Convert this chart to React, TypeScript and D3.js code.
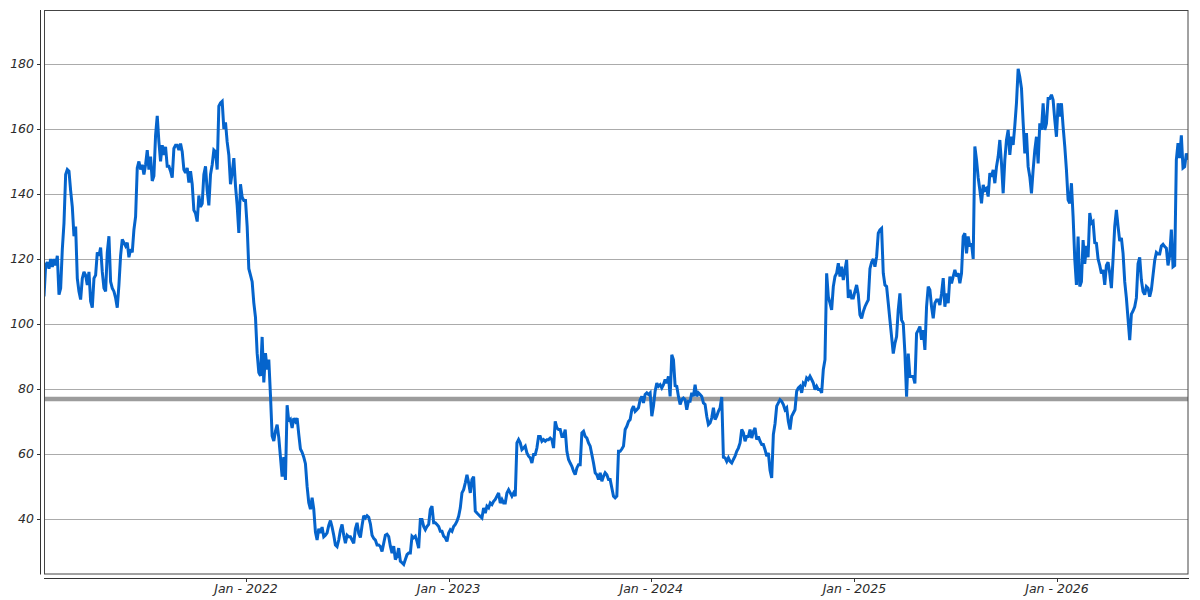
import React from 'react';
import * as d3 from 'd3';

// Series start and cadence (regular 3-day sampling of the traced curve)
const startDate = '2021-01-02';
const stepDays = 3;

// Values, in chronological order
const valuesA = [
  108.5, 118, 119, 117, 120, 117.5, 120, 118, 121, 109,
  111, 123, 131, 146, 147.5, 147, 141, 136, 127, 130,
  114, 110, 107.5, 114, 116, 115, 112, 116, 107, 105,
  114, 115, 122, 121, 123.5, 116, 111, 110, 122, 127,
  113, 111, 110, 108, 105, 112, 121, 126, 125, 124,
  125, 120.5, 123, 122, 129, 133, 148, 150, 147.5, 149,
  146, 149, 153.5, 147.5, 151.5, 144, 145.5, 158, 164, 156,
  150, 155, 152, 154.5, 148.5, 148.5, 147, 145, 154, 155,
  155, 153.5, 155.5, 153, 147.5, 146.5, 148, 143.5, 147, 143,
  135, 134, 131.5, 139.5, 136, 137, 146, 148.5, 141, 136.5,
  146, 149, 153.5, 153, 147.5, 167, 168, 168.5, 160, 162,
  156, 152, 143, 146.5, 151, 142.5, 136.5, 128,
];
const valuesB = [
  143, 139, 138, 138, 130, 117, 115, 113, 106.5, 102,
  91, 85, 84, 96, 82, 91, 86, 89, 78, 65.5,
  64, 67, 69, 65, 59, 53, 59, 52, 75, 70,
  70.6, 68, 71, 70, 71, 66, 61.5, 60.5, 59, 57,
  50, 45, 43, 46.5, 43, 36, 33.5, 37, 35.7, 37.5,
  34.5, 35, 35.7, 38, 39.5, 37.5, 35, 32, 31.5, 33.5,
  36.5, 38.3, 35, 32.5, 35, 34.5, 34.5, 33.5, 32.5, 37,
  38.8, 35.5, 34.3, 38, 41, 40.3, 41, 40.5, 38.5, 35,
  34, 33.5, 32, 32, 31.5, 30, 32.5, 35, 35.3, 34.6,
];
const valuesC = [
  31.6, 29.5, 31.6, 27.5, 28.5, 31, 27, 26.5, 26, 27.5,
  29, 29.5, 29.5, 34.7, 34.2, 34.7, 33.1, 31, 39.8, 39.8,
  37.7, 36.7, 37.7, 38.3, 42.9, 43.9, 38.8, 38.8, 38.3, 37.7,
  36.2, 36.2, 34.7, 34.2, 33.1, 35.7, 36.7, 36.2, 37.7, 38.3,
  39.3, 40.8, 43.4, 48, 49, 51.1, 53.6, 51.1, 48, 52.1,
  53, 42.4, 41.8, 41.3, 40.8, 40.3, 43.4, 41.8, 43.9, 43.4,
  44.9, 44.4, 45.4, 46, 47, 48, 44.9, 46, 44.9, 44.9,
  48, 49, 48, 47, 48, 47, 63.4, 64.4, 63.4, 61.3,
  61.8, 62.4, 60.3, 59.3, 58.8, 57.2, 59.8, 59.8, 61.8, 65.4,
  65.4, 63.9, 64.4, 63.9, 64.4, 64.4, 64.9, 64.4, 61.8, 70,
  68, 67.5, 67.5, 65.4, 65.4, 67.5, 60.8, 58.3, 57.2, 56.2,
  54.7, 53.6, 55.7, 56.7, 56.7, 66.5, 67, 65.4, 64.9, 63.4,
  62.4, 59.8, 57.2, 54.2, 53.6, 52.1, 54.2, 51.6, 53.1, 54.2,
  53.6, 52.1, 52.1, 49.5, 47, 46.5, 47, 60.8, 60.8, 61.5,
  62.4, 67.5, 68.5, 70, 70.6, 73.6, 74.7, 73.1, 73.6, 74.2,
];
const valuesD = [
  76.7, 77.7, 75.7, 78.3, 78.8, 78.3, 78.8, 71.6, 74.7, 79.3,
  81.8, 80.8, 81.3, 80.3, 81.3, 82.9, 81.8, 83.9, 77.7, 90.5,
  89, 81, 80.8, 77.7, 75.2, 76.7, 77.2, 76.7, 73.6, 76.2,
  76.2, 78.8, 77.7, 81.3, 77.7, 78.8, 78.3, 77.7, 75.7, 75.2,
  71.6, 69, 69.5, 71.1, 74.2, 70.6, 71.6, 73.1, 74.2, 77.5,
  59, 58.8, 57.7, 58.8, 57.7, 57.2, 58.3, 59.3, 60.8, 61.8,
  63.4, 67.5, 66.5, 63.9, 65.4, 65.4, 67.5, 64.9, 66.9, 68,
  64.4, 65.4, 63.9, 62.9, 62.9, 61.3, 59.3, 60.3, 55, 52.6,
  66, 69.3, 74.7, 75.7, 76.7, 76.2, 75.2, 73.6, 74.2, 70,
  67.5, 71.6, 72.6, 73.6, 79.3, 80.3, 80.8, 78.8, 81.8, 81.3,
  83.4, 82.9, 83.9, 82.9, 81.8, 79.8, 80.8, 79.8, 79.8, 78.8,
  86, 89,
];
const valuesE = [
  115.6, 108.4, 106.4, 104.3, 111.5, 114.6, 115.6, 118.7, 114.6, 117.6,
  113.5, 116.6, 119.7, 108, 110.5, 108, 108, 110, 112, 109,
  102.8, 101.7, 103.8, 105.3, 106.4, 107.4, 117, 119, 120, 117.6,
  120.7, 127.9, 128.9, 129.4, 115.6, 112, 111.5, 106.4, 101.2, 96.1,
  90.9, 94, 96.1, 104.3, 109.4, 101.2, 100.2, 91, 77.6, 90.9,
  83.8, 83.8, 83.8, 81.7, 97.1, 98.1, 99.2, 95.1, 98.1, 92,
  105.3, 111.5, 110.5, 105.3, 101.7, 106.4, 107.4, 107.4, 105.8, 109.4,
  114.1, 105.3, 109.4, 106.4, 114.6, 112.5, 114.6, 116.6, 114.6, 115.6,
  112.5, 115.6, 126.9, 127.9, 121.7, 126.9, 123.8, 124.8, 120, 154.6,
  150.5, 145, 141.2, 137.1, 142.8, 141.2, 141.7, 139.2, 146.4, 145.3,
  147.4, 143.3, 148.4, 151.5, 156.6, 149.4, 140.2, 150.5, 156.6, 159.7,
];
const valuesF = [
  152, 157.6, 155.1, 161, 168, 178.5, 176, 172.5, 162, 152.5,
  158.7, 148.4, 145.3, 140.2, 147.4, 153.5, 157.6, 149.4, 161.7, 159.7,
  167.9, 159.7, 161.7, 169.4, 169.4, 170.5, 168.9, 162.8, 157.6, 167.9,
  163.8, 167.9, 160.7, 154.6, 147.4, 138.2, 137.1, 143.3, 133, 120,
  112, 126.9, 111.5, 113, 125.8, 118.5, 124, 120.5, 134.1, 131,
  131.5, 125, 124.8, 120, 118, 115.5, 116.6, 112, 118, 119,
  115.6, 111, 120, 130, 135.1, 130, 125.5, 126.5, 121.7, 113,
  108, 101.5, 95, 103, 104, 105.3, 108, 118.5, 120.5, 113.5,
  110, 109, 111.5, 111, 108.4, 110.5, 115, 119.5, 122, 121.5,
  121.5, 124, 124.5, 123.8, 123.3, 118, 121, 129, 117.6, 118,
  150.5, 155.6, 151, 158, 148, 148.4, 152.5, 150.5,
];

const yTicks = [40, 60, 80, 100, 120, 140, 160, 180];
const xTickYears = [2022, 2023, 2024, 2025, 2026];
const yDomain = [22.9, 196.6];
const referenceLevel = 76.9;

type Pt = { date: Date; value: number };

export default function App() {
  const values = [...valuesA, ...valuesB, ...valuesC, ...valuesD, ...valuesE, ...valuesF];
  const start = d3.utcParse('%Y-%m-%d')(startDate) as Date;
  const data: Pt[] = values.map((v, i) => ({ date: d3.utcDay.offset(start, i * stepDays), value: v }));

  const W = 1200, H = 600;
  const left = 44, right = 1188, top = 10, bottom = 574.5;

  const x = d3.scaleUtc()
    .domain(d3.extent(data, (d) => d.date) as [Date, Date])
    .range([left, right]);
  const y = d3.scaleLinear().domain(yDomain).range([bottom, top]);

  const line = d3.line<Pt>()
    .x((d) => x(d.date))
    .y((d) => y(d.value))
    .curve(d3.curveLinear);

  const xTicks = xTickYears.map((yr) => new Date(Date.UTC(yr, 0, 1)));
  const fmt = d3.utcFormat('%b - %Y');
  const fontStyle = { fontFamily: '"DejaVu Sans", Verdana, sans-serif', fontStyle: 'italic', fontSize: 12.5 };
  const crisp = (v: number) => Math.round(v) + 0.5;

  return (
    <svg width={W} height={H} style={{ position: 'absolute', left: 0, top: 0, background: '#fff' }}>
      <rect x={0} y={0} width={W} height={H} fill="#fff" />
      {/* gridlines */}
      {yTicks.map((t) => (
        <line key={'g' + t} x1={left} x2={right} y1={crisp(y(t))} y2={crisp(y(t))} stroke="#ababab" strokeWidth={1} />
      ))}
      {/* reference level */}
      <line x1={left} x2={right} y1={y(referenceLevel)} y2={y(referenceLevel)} stroke="#9c9c9c" strokeWidth={4.5} />
      {/* data line */}
      <defs>
        <clipPath id="plotClip">
          <rect x={left} y={top} width={right - left} height={bottom - top} />
        </clipPath>
      </defs>
      <path d={line(data) || ''} fill="none" stroke="#0564cc" strokeWidth={3} strokeLinejoin="miter" strokeMiterlimit={2.5} strokeLinecap="butt" clipPath="url(#plotClip)" />
      {/* plot frame */}
      <rect x={left + 0.5} y={top + 0.5} width={right - left - 0.5} height={bottom - top - 1} fill="none" stroke="#444" strokeWidth={1} />
      {/* y axis */}
      <line x1={40.5} x2={40.5} y1={top} y2={bottom} stroke="#333" strokeWidth={1} />
      {yTicks.map((t) => (
        <g key={'y' + t}>
          <line x1={37} x2={40.5} y1={crisp(y(t))} y2={crisp(y(t))} stroke="#333" strokeWidth={1} />
          <text x={34} y={y(t)} dy="0.36em" textAnchor="end" fill="#2a2a2a" style={fontStyle}>{t}</text>
        </g>
      ))}
      {/* x axis */}
      <line x1={left} x2={right + 1} y1={578.5} y2={578.5} stroke="#333" strokeWidth={1} />
      {xTicks.map((d) => (
        <g key={'x' + d.getUTCFullYear()}>
          <line x1={crisp(x(d))} x2={crisp(x(d))} y1={578.5} y2={582} stroke="#333" strokeWidth={1} />
          <text x={x(d)} y={592.5} textAnchor="middle" fill="#2a2a2a" style={fontStyle}>{fmt(d)}</text>
        </g>
      ))}
    </svg>
  );
}
